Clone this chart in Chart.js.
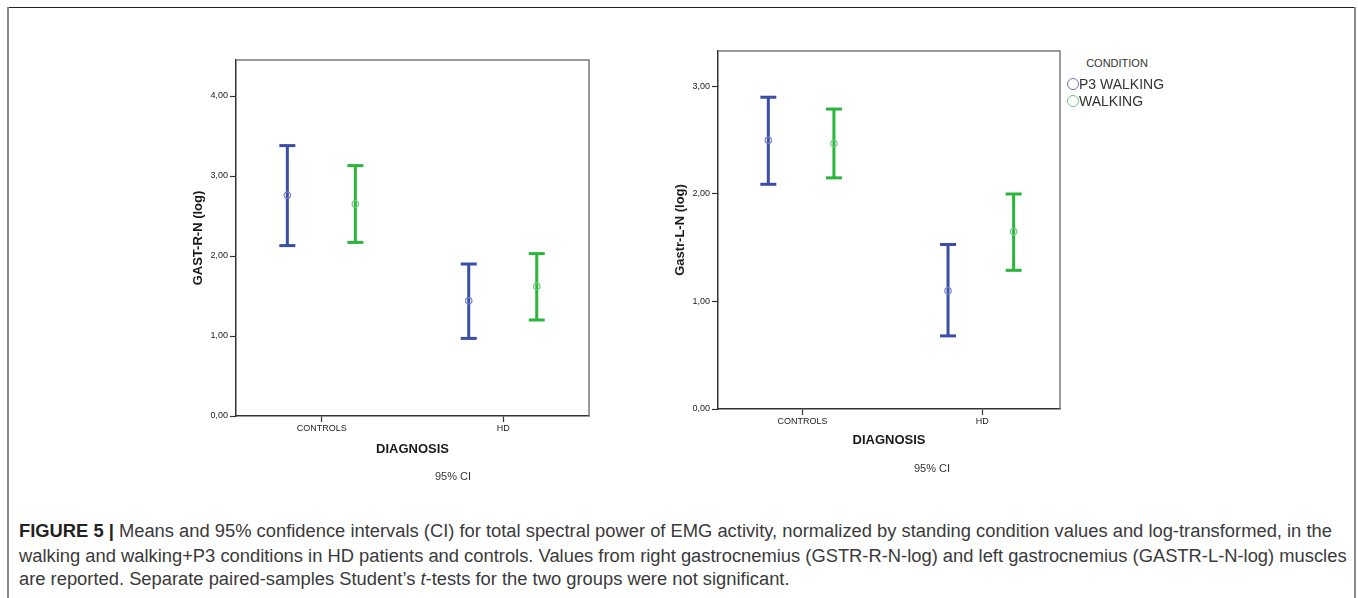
<!DOCTYPE html>
<html>
<head>
<meta charset="utf-8">
<script src="https://cdn.jsdelivr.net/npm/chart.js@4.4.1/dist/chart.umd.min.js"></script>
<style>
  html, body { margin: 0; padding: 0; background: #fff; }
  body { width: 1358px; height: 598px; position: relative; overflow: hidden; font-family: "Liberation Sans", Arial, sans-serif; }
  .frame-top { position: absolute; left: 7px; top: 7px; width: 1349px; height: 0; border-top: 1.5px solid #222; }
  .frame-left { position: absolute; left: 7px; top: 7px; width: 0; height: 600px; border-left: 2px solid #8a8a8a; }
  .frame-right { position: absolute; left: 1354px; top: 7px; width: 0; height: 600px; border-left: 2px solid #8a8a8a; }
  .box { position: absolute; }
  .ci { position: absolute; font-size: 11px; color: #333; transform: translate(-50%, -50%); white-space: nowrap; }
  .legend { position: absolute; color: #333; white-space: nowrap; }
  .legend .ttl { position: absolute; font-size: 11px; transform: translate(-50%, -50%); }
  .legend .item { position: absolute; font-size: 14px; transform: translateY(-50%); display: flex; align-items: center; }
  .legend .mk { width: 10px; height: 10px; border-radius: 50%; border: 1.2px solid; margin-right: 0px; }
  .caption { position: absolute; left: 19px; font-size: 18.35px; line-height: 21px; color: #3a3a3a; white-space: nowrap; }
  .caption b { color: #222; }
</style>
</head>
<body>
<div class="frame-top"></div>
<div class="frame-left"></div>
<div class="frame-right"></div>

<div class="box" style="left:150px; top:40px; width:460px; height:440px;"><canvas id="c1" width="460" height="440"></canvas></div>
<div class="box" style="left:630px; top:30px; width:450px; height:440px;"><canvas id="c2" width="450" height="440"></canvas></div>

<div class="ci" style="left:453px; top:476px;">95% CI</div>
<div class="ci" style="left:932px; top:468px;">95% CI</div>

<div class="legend" id="legend">
  <div class="ttl" style="left:1117px; top:63px;">CONDITION</div>
  <div class="item" style="left:1067px; top:84px;"><span class="mk" style="border-color:#7474bc"></span><span id="lg0"></span></div>
  <div class="item" style="left:1067px; top:101px;"><span class="mk" style="border-color:#6cc67a"></span><span id="lg1"></span></div>
</div>

<div class="caption" id="cap1" style="top:520px;"><b>FIGURE 5 |</b> Means and 95% confidence intervals (CI) for total spectral power of EMG activity, normalized by standing condition values and log-transformed, in the</div>
<div class="caption" id="cap2" style="top:545px;">walking and walking+P3 conditions in HD patients and controls. Values from right gastrocnemius (GSTR-R-N-log) and left gastrocnemius (GASTR-L-N-log) muscles</div>
<div class="caption" id="cap3" style="top:567.5px;">are reported. Separate paired-samples Student’s <i>t</i>-tests for the two groups were not significant.</div>

<script>
// ---------- DATA ----------
const categories = ['CONTROLS', 'HD'];
const seriesLabels = ['P3 WALKING', 'WALKING'];
const xAxisTitle = 'DIAGNOSIS';

// Chart 1: right gastrocnemius
const gastR_title = 'GAST-R-N (log)';
const gastR_p3_mean = [2.76, 1.44];
const gastR_p3_low  = [2.13, 0.97];
const gastR_p3_high = [3.38, 1.90];
const gastR_w_mean  = [2.65, 1.62];
const gastR_w_low   = [2.17, 1.20];
const gastR_w_high  = [3.13, 2.03];
const gastR_yTicks  = [0, 1, 2, 3, 4];
const gastR_yMax    = 4.45;

// Chart 2: left gastrocnemius
const gastL_title = 'Gastr-L-N (log)';
const gastL_p3_mean = [2.50, 1.10];
const gastL_p3_low  = [2.09, 0.68];
const gastL_p3_high = [2.90, 1.53];
const gastL_w_mean  = [2.47, 1.65];
const gastL_w_low   = [2.15, 1.29];
const gastL_w_high  = [2.79, 2.00];
const gastL_yTicks  = [0, 1, 2, 3];
const gastL_yMax    = 3.33;

// ---------- STYLE ----------
const barColors  = ['#3a4ea8', '#2bb53c'];
const meanColors = ['#7b82c8', '#72c97e'];
const FONT = '"Liberation Sans", Arial, sans-serif';

document.getElementById('lg0').textContent = seriesLabels[0];
document.getElementById('lg1').textContent = seriesLabels[1];

function fmt(v) { return v.toFixed(2).replace('.', ','); }

const boxPlugin = {
  id: 'plotBox',
  afterDraw(chart) {
    const a = chart.chartArea, ctx = chart.ctx;
    ctx.save();
    ctx.strokeStyle = '#7a7a7a';
    ctx.lineWidth = 1.5;
    ctx.beginPath();
    ctx.moveTo(a.left, a.top); ctx.lineTo(a.right, a.top); ctx.lineTo(a.right, a.bottom);
    ctx.stroke();
    ctx.restore();
  }
};

function buildDatasets(means, lows, highs, offsets) {
  const ds = [];
  for (let s = 0; s < means.length; s++) {
    for (let c = 0; c < categories.length; c++) {
      const x = c + 1 + offsets[s];
      ds.push({
        type: 'line',
        label: seriesLabels[s] + ' CI ' + categories[c],
        data: [{ x: x, y: lows[s][c] }, { x: x, y: highs[s][c] }],
        borderColor: barColors[s],
        borderWidth: 3,
        pointStyle: 'line',
        pointRadius: 8,
        pointHoverRadius: 8,
        pointBorderWidth: 3,
        pointBorderColor: barColors[s],
        showLine: true,
        order: 2
      });
    }
    ds.push({
      type: 'scatter',
      label: seriesLabels[s],
      data: categories.map((_, c) => ({ x: c + 1 + offsets[s], y: means[s][c] })),
      pointStyle: 'circle',
      pointRadius: 3.2,
      pointBorderWidth: 1.2,
      pointBorderColor: meanColors[s],
      pointBackgroundColor: 'rgba(0,0,0,0)',
      order: 1
    });
  }
  return ds;
}

function makeChart(id, cfg) {
  return new Chart(document.getElementById(id), {
    type: 'scatter',
    data: { datasets: buildDatasets(cfg.means, cfg.lows, cfg.highs, cfg.offsets) },
    plugins: [boxPlugin],
    options: {
      responsive: false,
      animation: false,
      devicePixelRatio: 1,
      layout: { padding: cfg.padding },
      plugins: { legend: { display: false }, tooltip: { enabled: false } },
      scales: {
        x: {
          type: 'linear',
          min: cfg.xMin, max: cfg.xMax,
          afterBuildTicks(scale) { scale.ticks = categories.map((_, i) => ({ value: i + 1 })); },
          afterFit(scale) { scale.height = cfg.xAxisH; },
          ticks: {
            callback: (v) => categories[Math.round(v) - 1],
            font: { family: FONT, size: 9 }, color: '#222', padding: 1, maxRotation: 0, autoSkip: false
          },
          grid: { drawOnChartArea: false, drawTicks: true, tickLength: 6, tickWidth: 1.2, color: '#333' },
          border: { display: true, color: '#333', width: 1.5 },
          title: { display: true, text: xAxisTitle, color: '#1a1a1a',
                   font: { family: FONT, size: 13, weight: 'bold' }, padding: { top: 0, bottom: cfg.xTitlePad } }
        },
        y: {
          type: 'linear',
          min: 0, max: cfg.yMax,
          afterBuildTicks(scale) { scale.ticks = cfg.yTicks.map(v => ({ value: v })); },
          afterFit(scale) { scale.width = cfg.yAxisW; },
          ticks: { callback: (v) => fmt(v), font: { family: FONT, size: 9 }, color: '#222', padding: 2 },
          grid: { drawOnChartArea: false, drawTicks: true, tickLength: 6, tickWidth: 1.2, color: '#333' },
          border: { display: true, color: '#333', width: 1.5 },
          title: { display: true, text: cfg.yTitle, color: '#1a1a1a',
                   font: { family: FONT, size: 13, weight: 'bold' }, padding: { top: cfg.yTitlePad, bottom: 0 } }
        }
      }
    }
  });
}

makeChart('c1', {
  means: [gastR_p3_mean, gastR_w_mean], lows: [gastR_p3_low, gastR_w_low], highs: [gastR_p3_high, gastR_w_high],
  offsets: [-0.19, 0.185], xMin: 0.527, xMax: 2.473, yMax: gastR_yMax, yTicks: gastR_yTicks, yTitle: gastR_title,
  padding: { left: 0, top: 20, right: 21, bottom: 0 }, yAxisW: 86, xAxisH: 64, yTitlePad: 40.2, xTitlePad: 23.2
});

makeChart('c2', {
  means: [gastL_p3_mean, gastL_w_mean], lows: [gastL_p3_low, gastL_w_low], highs: [gastL_p3_high, gastL_w_high],
  offsets: [-0.19, 0.175], xMin: 0.53, xMax: 2.433, yMax: gastL_yMax, yTicks: gastL_yTicks, yTitle: gastL_title,
  padding: { left: 0, top: 21, right: 20, bottom: 0 }, yAxisW: 88, xAxisH: 61, yTitlePad: 42.2, xTitlePad: 21.5
});
</script>
</body>
</html>
